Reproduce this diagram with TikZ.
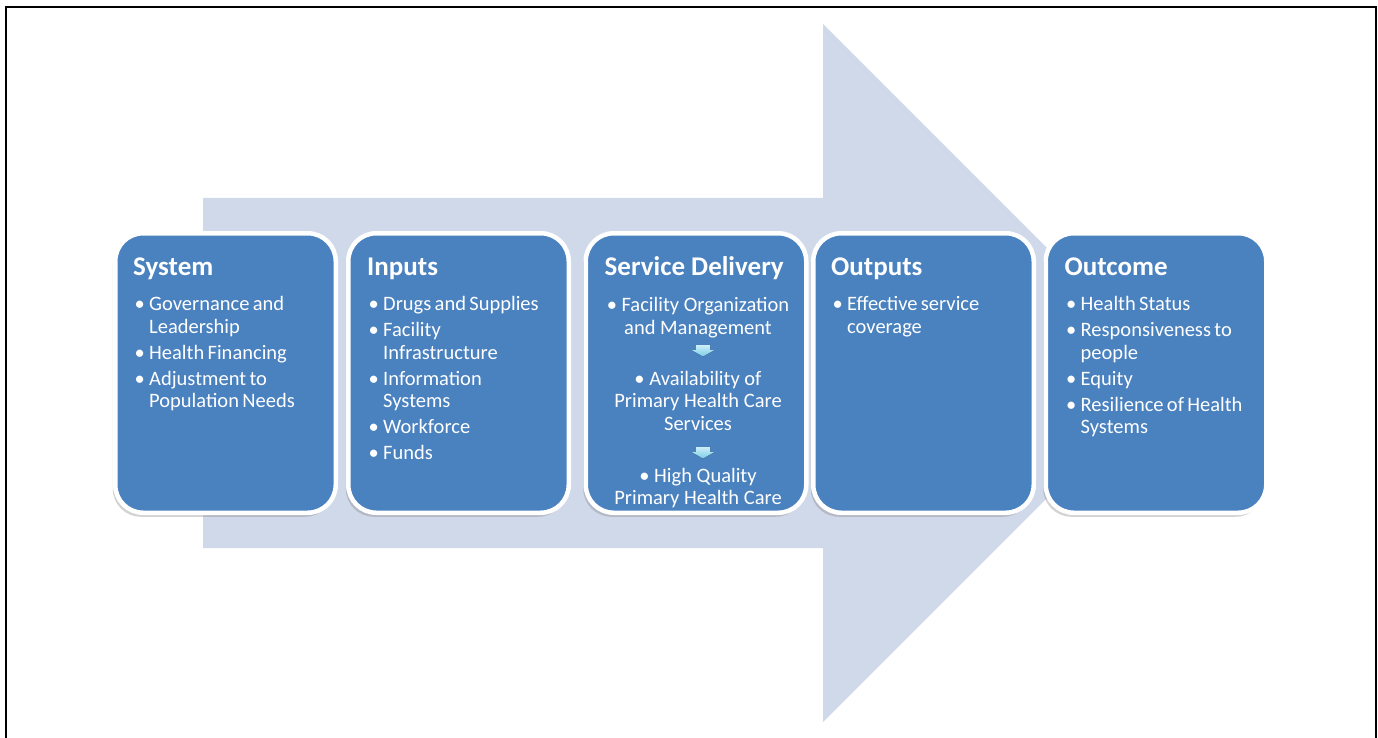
\documentclass[tikz,border=0pt]{standalone}
\usepackage{fontspec}
\setmainfont{Carlito}
\usetikzlibrary{shadows}
\definecolor{boxblue}{RGB}{74,129,191}
\definecolor{bandblue}{RGB}{208,217,234}
\definecolor{flowtop}{RGB}{205,238,248}
\definecolor{flowbot}{RGB}{120,205,232}
\newcommand\stagefont{\fontsize{20.5}{22.5}\selectfont\parskip=3.5pt\relax}
\newcommand\itm[1]{\hangindent=12pt\hangafter=1\makebox[12pt][l]{\kern-2.5pt\textbullet}#1\par}
\begin{document}
\begin{tikzpicture}[x=1pt,y=-1pt,
  stagebox/.style={rounded corners=28pt,fill=boxblue,draw=white,line width=4.5pt,
    minimum width=220.5pt,minimum height=279.5pt,inner sep=0pt,
    drop shadow={shadow xshift=-2.5pt,shadow yshift=-4pt,opacity=.35}},
  stagetitle/.style={anchor=base west,inner sep=0pt,text=white,font=\bfseries\fontsize{27}{30}\selectfont},
  stagelist/.style={anchor=base west,inner sep=0pt,text=white,text width=200pt,align=left},
  stagecentre/.style={anchor=base,inner sep=0pt,text=white,text width=215pt,align=flush center,
    font=\fontsize{20.5}{22.5}\selectfont},
  flowarrow/.style={top color=flowtop,bottom color=flowbot}]
  \useasboundingbox (0,0) rectangle (1378,738);
  % frame
  \draw[line width=2pt] (6,738)--(6,7)--(1376,7)--(1376,738);
  % big arrow behind the stages
  \fill[bandblue] (203,198)--(823,198)--(823,24)--(1172,373)--(823,722)--(823,548)--(203,548)--cycle;
  % stages
  \node[stagebox](sys)at(225.5,373){};
  \node[stagebox](inp)at(458.5,373){};
  \node[stagebox](sd)at(696,373){};
  \node[stagebox](outp)at(923.5,373){};
  \node[stagebox](outc)at(1156,373){};
  % titles
  \node[stagetitle](systitle)at([shift={(20,44)}]sys.north west){System};
  \node[stagetitle](inptitle)at([shift={(21,44)}]inp.north west){Inputs};
  \node[stagetitle](sdtitle)at([shift={(21,44)}]sd.north west){Service Delivery};
  \node[stagetitle](outptitle)at([shift={(20,44)}]outp.north west){Outputs};
  \node[stagetitle](outctitle)at([shift={(21,44)}]outc.north west){Outcome};
  % lists
  \node[stagelist](syslist)at([shift={(24,79.5)}]sys.north west){\stagefont
    \itm{Governance and\newline Leadership}
    \itm{Health Financing}
    \itm{Adjustment to\newline Population Needs}};
  \node[stagelist](inplist)at([shift={(25,79.5)}]inp.north west){\stagefont
    \itm{Drugs and Supplies}
    \itm{Facility\newline Infrastructure}
    \itm{Information\newline Systems}
    \itm{Workforce}
    \itm{Funds}};
  \node[stagelist](outplist)at([shift={(24,79.5)}]outp.north west){\stagefont
    \itm{Effective service\newline coverage}};
  \node[stagelist](outclist)at([shift={(25,79.5)}]outc.north west){\stagefont
    \itm{Health Status}
    \itm{Responsiveness to\newline people}
    \itm{Equity}
    \itm{Resilience of Health\newline Systems}};
  % service delivery chain
  \node[stagecentre](sdone)at(698,311.5){\textbullet\ Facility Organization\\and Management};
  \node[stagecentre](sdtwo)at(698,385){\textbullet\ Availability of\\Primary Health Care\\Services};
  \node[stagecentre](sdthree)at(698,482){\textbullet\ High Quality\\Primary Health Care};
  \fill[flowarrow,shift={(703,345)}] (-7,0)--(7,0)--(7,5)--(11.5,5)--(0,11.5)--(-11.5,5)--(-7,5)--cycle;
  \fill[flowarrow,shift={(703,447)}] (-7,0)--(7,0)--(7,5)--(11.5,5)--(0,11.5)--(-11.5,5)--(-7,5)--cycle;
\end{tikzpicture}
\end{document}
